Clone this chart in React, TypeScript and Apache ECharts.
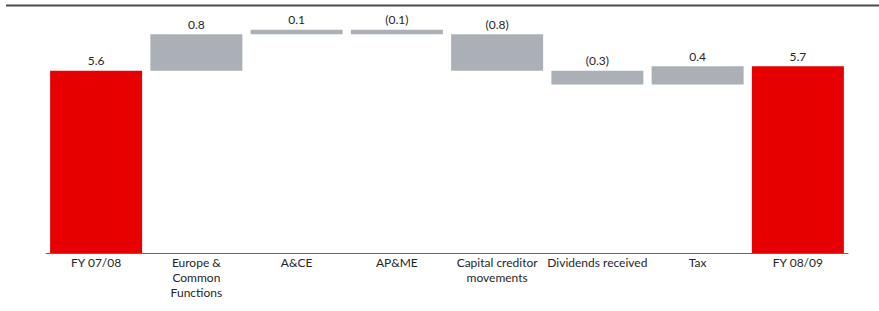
import React, { useEffect, useRef } from "react";
import * as echarts from "echarts";

const categories = [
  "FY 07/08",
  "Europe &\nCommon\nFunctions",
  "A&CE",
  "AP&ME",
  "Capital creditor\nmovements",
  "Dividends received",
  "Tax",
  "FY 08/09",
];
const startValue = 5.6;
const changes = [0.8, 0.1, -0.1, -0.8, -0.3, 0.4];
const endValue = 5.7;

const RED = "#e60000";
const GREY = "#aab0b6";

function fmt(v: number): string {
  const s = Math.abs(v).toFixed(1);
  return v < 0 ? `(${s})` : s;
}

export default function App() {
  const ref = useRef<HTMLDivElement>(null);
  useEffect(() => {
    if (!ref.current) return;
    const chart = echarts.init(ref.current, undefined, { renderer: "svg" });

    const base: number[] = [0];
    const visible: any[] = [];
    visible.push({ value: startValue, itemStyle: { color: RED }, label: { formatter: fmt(startValue) } });
    let running = startValue;
    changes.forEach((c) => {
      const next = running + c;
      base.push(Math.min(running, next));
      visible.push({ value: Math.abs(c), itemStyle: { color: GREY }, label: { formatter: fmt(c) } });
      running = next;
    });
    base.push(0);
    visible.push({ value: endValue, itemStyle: { color: RED }, label: { formatter: fmt(endValue) } });

    const font = "Lato, 'Open Sans', sans-serif";

    chart.setOption({
      animation: false,
      grid: { left: 46, right: 31, top: 7, bottom: 58, containLabel: false },
      xAxis: {
        type: "category",
        data: categories,
        axisLine: { lineStyle: { color: "#666", width: 1 } },
        axisTick: { show: false },
        axisLabel: {
          interval: 0,
          color: "#262626",
          fontFamily: font,
          fontSize: 12,
          lineHeight: 15,
          margin: 2,
        },
      },
      yAxis: {
        type: "value",
        min: 1.6,
        max: 7.0,
        show: false,
        splitLine: { show: false },
      },
      series: [
        {
          type: "bar",
          stack: "w",
          data: base,
          barWidth: 92,
          itemStyle: { color: "transparent" },
          silent: true,
        },
        {
          type: "bar",
          stack: "w",
          data: visible,
          barWidth: 92,
          label: {
            show: true,
            position: "top",
            distance: 4,
            color: "#262626",
            fontFamily: font,
            fontSize: 12,
          },
        },
      ],
      graphic: [
        {
          type: "line",
          shape: { x1: 6, y1: 5.5, x2: 879, y2: 5.5 },
          style: { stroke: "#4d4d4d", lineWidth: 2 },
        },
      ],
    });
    return () => chart.dispose();
  }, []);
  return (
    <div
      ref={ref}
      style={{ position: "fixed", left: 0, top: 0, width: 879, height: 311, background: "#fff" }}
    />
  );
}
